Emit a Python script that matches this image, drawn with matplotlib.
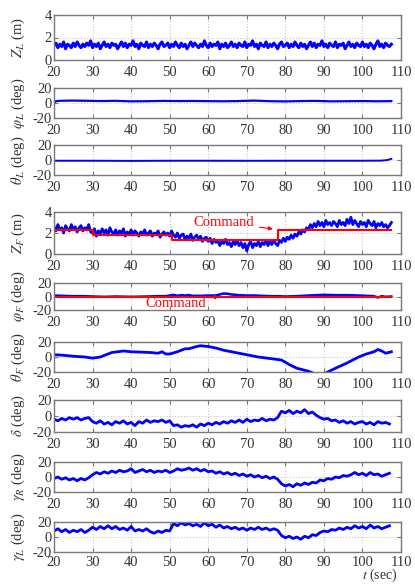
import numpy as np
import matplotlib
matplotlib.use("Agg")
import matplotlib.pyplot as plt

plt.rcParams['font.family'] = ['Liberation Serif', 'DejaVu Serif']
plt.rcParams['mathtext.fontset'] = 'stix'
plt.rcParams['axes.unicode_minus'] = False

# time bases
t_fast = np.arange(20, 107.51, 0.5)
t_sec = np.arange(20, 108, 1)

# Z_L (m), 0.5 s samples
z_l = [1.3,1.5,1.1,1.4,1.2,1.6,1.0,1.4,1.3,1.1,1.5,1.2,1.6,1.3,1.1,1.4,
       1.2,1.5,1.3,1.7,1.1,1.4,1.2,1.5,1.0,1.3,1.6,1.2,1.4,1.1,1.5,1.3,
       1.4,1.0,1.3,1.6,1.2,1.5,1.1,1.4,1.3,1.7,1.2,1.4,1.0,1.5,1.3,1.2,
       1.6,1.1,1.4,1.2,1.5,1.3,1.0,1.4,1.6,1.2,1.3,1.5,1.1,1.4,1.2,1.6,
       1.3,1.1,1.5,1.2,1.4,1.0,1.3,1.6,1.2,1.5,1.3,1.1,1.4,1.2,1.7,1.3,
       1.1,1.5,1.2,1.4,1.3,1.6,1.0,1.4,1.2,1.5,1.1,1.3,1.6,1.2,1.4,1.1,
       1.5,1.3,1.2,1.6,1.1,1.4,1.3,1.7,1.2,1.4,1.0,1.5,1.3,1.2,1.6,1.1,
       1.4,1.2,1.5,1.3,1.0,1.4,1.6,1.2,1.3,1.5,1.1,1.4,1.2,1.6,1.3,1.1,
       1.5,1.2,1.4,1.0,1.3,1.6,1.2,1.5,1.1,1.4,1.3,1.7,1.2,1.4,1.1,1.5,
       1.3,1.2,1.6,1.1,1.4,1.3,1.5,1.0,1.3,1.6,1.2,1.4,1.1,1.5,1.3,1.2,
       1.6,1.2,1.4,1.1,1.5,1.3,1.0,1.4,1.7,1.2,1.4,1.1,1.5,1.3,1.2,1.4]

# phi_L (deg)
phi_l_t = [20, 20.5, 22, 25, 28, 32, 36, 40, 44, 48, 52, 56, 60, 64, 68, 72,
           76, 80, 84, 88, 92, 96, 100, 104, 107.5]
phi_l = [0, 2.5, 3, 3.2, 3, 2.6, 2.9, 2.2, 2.4, 2.8, 2.6, 2.7, 2.5, 2.3, 2.6,
         3.2, 2.4, 2.1, 2.6, 2.8, 2.2, 2.4, 2.6, 2.3, 2.5]

# theta_L (deg)
theta_l_t = [20, 30, 40, 50, 60, 70, 80, 90, 100, 105, 106.5, 107.5]
theta_l = [-1, -1, -1.2, -1, -1, -1.1, -1, -1, -1, -0.8, 0, 1.5]

# Z_F (m), 0.5 s samples
z_f = [2.6,2.2,2.8,2.3,2.5,2.0,2.7,2.4,2.2,2.8,2.3,2.6,2.1,2.5,2.7,2.2,
       2.5,2.3,2.8,2.1,2.0,2.4,1.7,2.2,1.9,2.4,2.0,2.3,1.8,2.5,2.1,1.9,
       2.3,1.8,2.2,2.0,2.4,1.7,2.1,1.9,2.3,1.8,2.2,2.0,1.7,2.1,1.9,2.3,
       1.8,2.0,2.2,1.7,2.0,1.9,2.2,1.6,1.9,2.1,1.8,2.0,1.7,2.2,1.8,1.6,
       2.0,1.5,1.8,1.9,1.4,1.7,1.5,1.9,1.3,1.6,1.8,1.4,1.7,1.2,1.5,1.6,
       1.2,1.5,1.0,1.4,1.1,1.3,0.8,1.2,1.0,1.4,0.9,1.1,0.7,1.2,0.9,1.3,
       0.8,1.1,0.6,1.0,0.3,0.9,1.2,0.6,1.0,0.8,1.2,0.7,1.1,0.9,1.3,0.8,
       1.2,0.9,1.3,1.0,0.8,1.3,1.1,1.5,1.2,1.6,1.4,1.8,1.5,1.9,1.7,2.1,
       1.9,2.3,2.1,2.5,2.3,2.8,2.5,2.9,2.6,3.1,2.7,3.0,2.6,3.2,2.8,3.0,
       2.7,3.1,2.9,2.6,3.2,2.8,3.0,2.7,3.3,2.9,3.5,2.8,3.2,2.9,2.6,3.1,
       2.8,3.0,2.6,3.2,2.9,2.7,3.1,2.5,2.9,2.7,3.0,2.6,2.8,2.5,2.7,3.0]
z_cmd_t = [20, 30, 50.5, 78, 107.5]
z_cmd = [2.3, 1.8, 1.3, 2.3, 2.3]

# phi_F (deg)
phi_f_t = [20, 22, 25, 28, 30, 33, 36, 40, 44, 47, 49, 50, 51, 52, 53, 54, 55,
           56, 58, 60, 62, 63, 64, 65, 66, 67, 68, 70, 72, 74, 76, 78, 80, 83,
           86, 88, 90, 93, 96, 99, 101, 103, 104, 105, 106, 107.5]
phi_f = [1.5, 1, 0.5, 0.5, 0, -0.5, 0, -0.5, 0, 0.5, 0.5, 1.5, 2.5, 1, 2, 1.5, 2,
         1, 1, 1.5, 1.5, 3, 4.5, 4, 3, 2.5, 2, 1.5, 1.5, 1, 0.5, 0.5, 0, 0.5,
         1.5, 2, 2.5, 2, 2, 1.5, 1, 0.5, -1.5, 0.5, -0.5, 0]
phi_cmd_t = [20, 107.5]
phi_cmd = [0, 0]

# theta_F (deg)
theta_f_t = [20, 22, 25, 28, 30, 32, 35, 38, 40, 45, 47, 48, 49, 50, 52, 54, 55,
             57, 58, 60, 62, 64, 67, 70, 73, 76, 79, 81, 83, 86, 88, 89.5, 91,
             93, 96, 99, 101, 103, 104, 105, 106, 107.5]
theta_f = [3, 2.5, 1, 0, -1.5, 0, 6, 8, 7, 6, 5, 7, 4, 4, 7, 11, 11,
           14, 15, 14, 12, 9, 6, 3, 0, -2, -4, -10, -15, -19, -23, -24, -20,
           -15, -8, 0, 4, 7, 10, 8, 5, 7]

# delta (deg), 1 s samples
delta = [-4, -6, -3, -5, -2, -4, -2, -5, -3, -2,
         -7, -9, -6, -10, -8, -11, -7, -9, -6, -10,
         -8, -12, -7, -9, -5, -8, -6, -7, -5, -8,
         -6, -12, -11, -14, -12, -13, -11, -14, -10, -12,
         -9, -11, -8, -10, -7, -9, -6, -8, -5, -8,
         -4, -7, -5, -6, -3, -6, -4, -5, -2, 6,
         4, 7, 3, 6, 4, 8, 3, 5, 1, -2,
         -4, -3, -6, -5, -8, -6, -9, -7, -10, -8,
         -7, -10, -8, -11, -7, -9, -8, -10]

# gamma_R (deg), 1 s samples
gamma_r = [-2, 0, -3, -1, -4, -2, -5, -2, -4, -1,
           3, 6, 4, 7, 5, 8, 6, 9, 7, 8,
           11, 6, 8, 10, 7, 9, 6, 8, 7, 9,
           6, 8, 11, 9, 10, 12, 9, 11, 8, 10,
           7, 8, 5, 7, 4, 6, 3, 5, 2, 4,
           1, 3, 0, 2, -1, 1, -2, 0, -3, -9,
           -12, -10, -13, -9, -11, -8, -10, -7, -8, -4,
           -5, -2, -3, 0, -1, 2, 1, 3, 6, 3,
           5, 2, 6, 3, 4, 1, 3, 5]

# gamma_L (deg), 1 s samples
gamma_l = [8, 11, 7, 10, 6, 9, 7, 10, 6, 9,
           13, 10, 14, 11, 15, 11, 14, 10, 12, 9,
           14, 8, 10, 8, 11, 7, 5, 8, 6, 9,
           8, 18, 15, 19, 16, 18, 15, 17, 14, 19,
           15, 17, 13, 16, 12, 14, 11, 13, 10, 12,
           9, 12, 10, 13, 10, 12, 9, 11, 9, 2,
           -1, 1, -2, 0, -3, 1, -1, 3, 2, 6,
           8, 7, 10, 9, 12, 10, 13, 11, 15, 12,
           14, 11, 16, 12, 14, 11, 13, 15]

ylabels = [r'$Z_L$ (m)', r'$\varphi_L$ (deg)', r'$\theta_L$ (deg)',
           r'$Z_F$ (m)', r'$\varphi_F$ (deg)', r'$\theta_F$ (deg)',
           r'$\delta$ (deg)', r'$\gamma_R$ (deg)', r'$\gamma_L$ (deg)']

W, H = 415, 585
fig = plt.figure(figsize=(W / 100, H / 100), dpi=100)

# panel top/bottom in pixels
spans = [(15, 60), (88, 118), (145, 175), (212, 254), (283, 310),
         (342, 372), (400, 432), (462, 492), (522, 552)]
x0, x1 = 54, 401

axes = []
for (top, bot) in spans:
    ax = fig.add_axes([x0 / W, 1 - bot / H, (x1 - x0) / W, (bot - top) / H])
    axes.append(ax)

blue = '#0000ff'
red = '#ff0000'

axes[0].plot(t_fast, z_l, color=blue, lw=2.2)
axes[1].plot(phi_l_t, phi_l, color=blue, lw=1.6)
axes[2].plot(theta_l_t, theta_l, color=blue, lw=1.4)
axes[3].plot(t_fast, z_f, color=blue, lw=2.0)
axes[3].plot(z_cmd_t, z_cmd, color=red, lw=1.5, drawstyle='steps-post')
axes[4].plot(phi_f_t, phi_f, color=blue, lw=1.8)
axes[4].plot(phi_cmd_t, phi_cmd, color=red, lw=1.5)
axes[5].plot(theta_f_t, theta_f, color=blue, lw=2.0)
axes[6].plot(t_sec, delta, color=blue, lw=2.0)
axes[7].plot(t_sec, gamma_r, color=blue, lw=2.0)
axes[8].plot(t_sec, gamma_l, color=blue, lw=2.0)

for i, ax in enumerate(axes):
    ax.set_xlim(20, 110)
    ax.set_xticks(range(20, 111, 10))
    if i in (0, 3):
        ax.set_ylim(0, 4)
        ax.set_yticks([0, 2, 4])
    else:
        ax.set_ylim(-20, 20)
        ax.set_yticks([-20, 0, 20])
    ax.grid(True, ls=':', color='#c8c8c8', lw=0.8)
    ax.tick_params(direction='in', top=True, right=True, length=3,
                   labelsize=10.5, width=0.8)
    ax.tick_params(axis='x', colors='#777777', labelcolor='#333333', pad=4.5)
    ax.tick_params(axis='y', colors='#777777', labelcolor='#333333', pad=1.5)
    for s in ax.spines.values():
        s.set_color('#7a7a7a')
        s.set_linewidth(1.0)
    ax.set_ylabel(ylabels[i], fontsize=10.5, color='#333333')
    ax.yaxis.set_label_coords(-0.078, 0.5)

# bottom panel: tick labels a little closer so the axis title fits below
axes[8].tick_params(axis='x', pad=3)

axes[3].annotate('Command', xy=(77.5, 2.35), xytext=(64, 3.0),
                 color=red, fontsize=10.5, ha='center', va='center',
                 arrowprops=dict(arrowstyle='-|>', color=red, lw=0.8,
                                 mutation_scale=6))
axes[4].annotate('Command', xy=(63.5, 0.5), xytext=(51.5, -10),
                 color=red, fontsize=10.5, ha='center', va='center',
                 arrowprops=dict(arrowstyle='-|>', color=red, lw=0.8,
                                 mutation_scale=6))

fig.text(398 / W, 1 - 584 / H, r'$t$ (sec)', ha='right', va='bottom',
         fontsize=10, color='#333333')

fig.savefig('out.png', dpi=100)
